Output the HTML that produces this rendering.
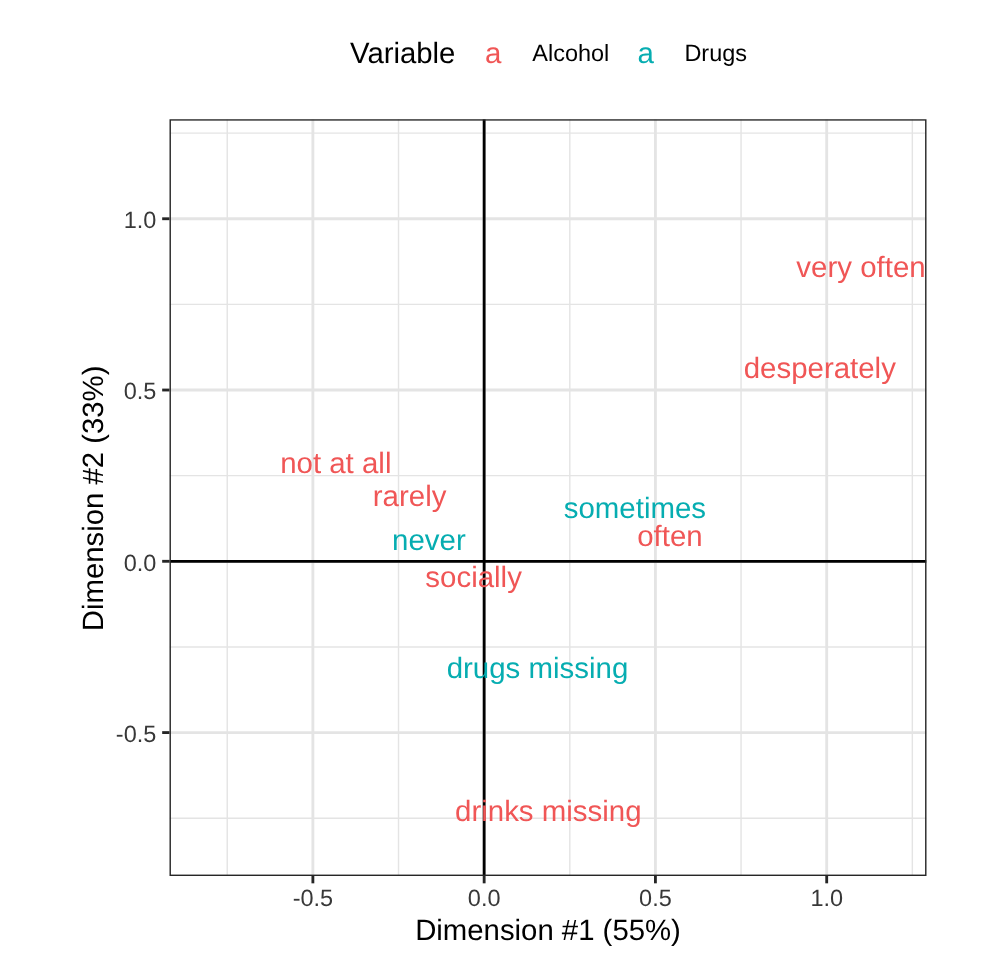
<!DOCTYPE html><html><head><meta charset="utf-8"><style>html,body{margin:0;padding:0;background:#fff;width:1008px;height:960px;overflow:hidden}svg{display:block;will-change:transform}text{font-family:"Liberation Sans",sans-serif;text-rendering:geometricPrecision}</style></head><body>
<svg width="1008" height="960" viewBox="0 0 1008 960">
<rect x="0" y="0" width="1008" height="960" fill="#fff"/>
<defs><clipPath id="pc"><rect x="169.5" y="119.2" width="757.0" height="756.8"/></clipPath></defs>
<g clip-path="url(#pc)">
<line x1="227.24" y1="119.2" x2="227.24" y2="876.0" stroke="#E4E4E4" stroke-width="1.42"/>
<line x1="169.5" y1="818.21" x2="926.5" y2="818.21" stroke="#E4E4E4" stroke-width="1.42"/>
<line x1="398.51" y1="119.2" x2="398.51" y2="876.0" stroke="#E4E4E4" stroke-width="1.42"/>
<line x1="169.5" y1="646.94" x2="926.5" y2="646.94" stroke="#E4E4E4" stroke-width="1.42"/>
<line x1="569.79" y1="119.2" x2="569.79" y2="876.0" stroke="#E4E4E4" stroke-width="1.42"/>
<line x1="169.5" y1="475.66" x2="926.5" y2="475.66" stroke="#E4E4E4" stroke-width="1.42"/>
<line x1="741.06" y1="119.2" x2="741.06" y2="876.0" stroke="#E4E4E4" stroke-width="1.42"/>
<line x1="169.5" y1="304.39" x2="926.5" y2="304.39" stroke="#E4E4E4" stroke-width="1.42"/>
<line x1="912.34" y1="119.2" x2="912.34" y2="876.0" stroke="#E4E4E4" stroke-width="1.42"/>
<line x1="169.5" y1="133.11" x2="926.5" y2="133.11" stroke="#E4E4E4" stroke-width="1.42"/>
<line x1="312.88" y1="119.2" x2="312.88" y2="876.0" stroke="#E4E4E4" stroke-width="2.84"/>
<line x1="169.5" y1="732.57" x2="926.5" y2="732.57" stroke="#E4E4E4" stroke-width="2.84"/>
<line x1="484.15" y1="119.2" x2="484.15" y2="876.0" stroke="#E4E4E4" stroke-width="2.84"/>
<line x1="169.5" y1="561.30" x2="926.5" y2="561.30" stroke="#E4E4E4" stroke-width="2.84"/>
<line x1="655.42" y1="119.2" x2="655.42" y2="876.0" stroke="#E4E4E4" stroke-width="2.84"/>
<line x1="169.5" y1="390.02" x2="926.5" y2="390.02" stroke="#E4E4E4" stroke-width="2.84"/>
<line x1="826.70" y1="119.2" x2="826.70" y2="876.0" stroke="#E4E4E4" stroke-width="2.84"/>
<line x1="169.5" y1="218.75" x2="926.5" y2="218.75" stroke="#E4E4E4" stroke-width="2.84"/>
<line x1="169.5" y1="561.30" x2="926.5" y2="561.30" stroke="#000" stroke-width="2.84"/>
<line x1="484.15" y1="119.2" x2="484.15" y2="876.0" stroke="#000" stroke-width="2.84"/>
<g font-size="29.44" text-anchor="middle">
<text x="861.0" y="276.5" fill="#F05656">very often</text>
<text x="819.8" y="377.7" fill="#F05656">desperately</text>
<text x="335.8" y="472.7" fill="#F05656">not at all</text>
<text x="409.6" y="506.1" fill="#F05656">rarely</text>
<text x="634.9" y="518.0" fill="#06ADB1">sometimes</text>
<text x="670.0" y="545.9" fill="#F05656">often</text>
<text x="428.9" y="549.7" fill="#06ADB1">never</text>
<text x="473.6" y="586.7" fill="#F05656">socially</text>
<text x="537.5" y="677.7" fill="#06ADB1">drugs missing</text>
<text x="548.3" y="820.8" fill="#F05656">drinks missing</text>
</g>
<rect x="169.5" y="119.2" width="757.0" height="756.8" fill="none" stroke="#262626" stroke-width="2.84"/>
</g>
<line x1="312.88" y1="876.0" x2="312.88" y2="883.33" stroke="#262626" stroke-width="2.84"/>
<line x1="169.5" y1="732.57" x2="162.17" y2="732.57" stroke="#262626" stroke-width="2.84"/>
<line x1="484.15" y1="876.0" x2="484.15" y2="883.33" stroke="#262626" stroke-width="2.84"/>
<line x1="169.5" y1="561.30" x2="162.17" y2="561.30" stroke="#262626" stroke-width="2.84"/>
<line x1="655.42" y1="876.0" x2="655.42" y2="883.33" stroke="#262626" stroke-width="2.84"/>
<line x1="169.5" y1="390.02" x2="162.17" y2="390.02" stroke="#262626" stroke-width="2.84"/>
<line x1="826.70" y1="876.0" x2="826.70" y2="883.33" stroke="#262626" stroke-width="2.84"/>
<line x1="169.5" y1="218.75" x2="162.17" y2="218.75" stroke="#262626" stroke-width="2.84"/>
<g font-size="23.47" fill="#383838">
<text x="312.88" y="906.0" text-anchor="middle">-0.5</text>
<text x="156.3" y="741.97" text-anchor="end">-0.5</text>
<text x="484.15" y="906.0" text-anchor="middle">0.0</text>
<text x="156.3" y="570.70" text-anchor="end">0.0</text>
<text x="655.42" y="906.0" text-anchor="middle">0.5</text>
<text x="156.3" y="399.42" text-anchor="end">0.5</text>
<text x="826.70" y="906.0" text-anchor="middle">1.0</text>
<text x="156.3" y="228.15" text-anchor="end">1.0</text>
</g>
<text x="548.0" y="939.9" font-size="29.33" text-anchor="middle" fill="#000">Dimension #1 (55%)</text>
<text transform="translate(102.9,498.4) rotate(-90)" x="0" y="0" font-size="29.33" text-anchor="middle" fill="#000">Dimension #2 (33%)</text>
<text x="350.0" y="62.7" font-size="29.33" fill="#000">Variable</text>
<text x="493.1" y="62.9" font-size="29.44" text-anchor="middle" fill="#F05656">a</text>
<text x="532.3" y="61.0" font-size="23.47" fill="#000">Alcohol</text>
<text x="645.8" y="62.9" font-size="29.44" text-anchor="middle" fill="#06ADB1">a</text>
<text x="684.4" y="61.0" font-size="23.47" fill="#000">Drugs</text>
</svg></body></html>
